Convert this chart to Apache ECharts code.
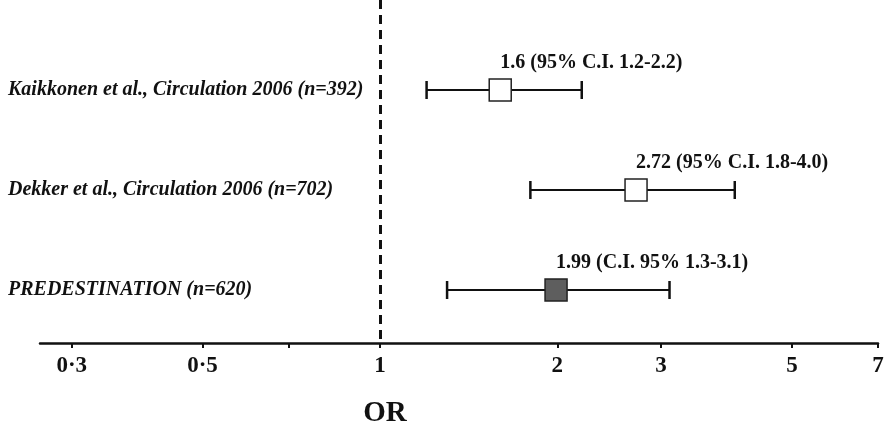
<!DOCTYPE html>
<html>
<head>
<meta charset="utf-8">
<script src="https://cdn.jsdelivr.net/npm/echarts@6/dist/echarts.min.js"></script>
<style>
  html, body { margin: 0; padding: 0; background: #fff; }
  #chart { width: 888px; height: 424px; }
</style>
</head>
<body>
<div id="chart"></div>
<script>
const studies = [
  "Kaikkonen et al., Circulation 2006 (n=392)",
  "Dekker et al., Circulation 2006 (n=702)",
  "PREDESTINATION (n=620)"
];
const orValues = [1.6, 2.72, 1.99];
const ciLow = [1.2, 1.8, 1.3];
const ciHigh = [2.2, 4.0, 3.1];
const notes = [
  "1.6 (95% C.I. 1.2-2.2)",
  "2.72 (95% C.I. 1.8-4.0)",
  "1.99 (C.I. 95% 1.3-3.1)"
];
const xTicks = [0.3, 0.5, 0.7, 1, 2, 3, 5, 7];
const xLabels = [0.3, 0.5, 1, 2, 3, 5, 7];

const ink = "#111";
const boxFill = ["#ffffff", "#ffffff", "#5e5e5e"];
const serif = "Liberation Serif, Times New Roman, serif";

const chart = echarts.init(document.getElementById("chart"));

function renderItem(params, api) {
  const i = params.dataIndex;
  const row = api.value(0);
  const lo = api.coord([api.value(1), row]);
  const mid = api.coord([api.value(2), row]);
  const hi = api.coord([api.value(3), row]);
  const cap = 9;
  const half = 11;
  return {
    type: "group",
    children: [
      { type: "line", shape: { x1: lo[0], y1: lo[1], x2: hi[0], y2: hi[1] }, style: { stroke: ink, lineWidth: 2 } },
      { type: "line", shape: { x1: lo[0], y1: lo[1] - cap, x2: lo[0], y2: lo[1] + cap }, style: { stroke: ink, lineWidth: 2.5 } },
      { type: "line", shape: { x1: hi[0], y1: hi[1] - cap, x2: hi[0], y2: hi[1] + cap }, style: { stroke: ink, lineWidth: 2.5 } },
      {
        type: "rect",
        shape: { x: mid[0] - half, y: mid[1] - half, width: half * 2, height: half * 2 },
        style: { fill: boxFill[i], stroke: "#222", lineWidth: 1.5 }
      },
      {
        type: "text",
        x: mid[0],
        y: mid[1] - 27,
        style: {
          text: notes[i],
          fill: ink,
          font: "bold 20px " + serif,
          textAlign: "left",
          textVerticalAlign: "middle"
        }
      }
    ]
  };
}

chart.setOption({
  animation: false,
  title: {
    text: "OR",
    left: 380,
    top: 394,
    textAlign: "center",
    textStyle: { fontFamily: serif, fontWeight: "bold", fontSize: 29, color: ink }
  },
  grid: { left: 40, right: 10, top: 0, bottom: 81 },
  xAxis: {
    type: "log",
    logBase: 10,
    min: 0.265,
    max: 7,
    axisLine: { onZero: false, lineStyle: { color: ink, width: 2.5 } },
    axisTick: { customValues: xTicks, length: 5, lineStyle: { color: ink, width: 2 } },
    axisLabel: {
      customValues: xLabels,
      margin: 12,
      color: ink,
      fontFamily: serif,
      fontWeight: "bold",
      fontSize: 23,
      formatter: (v) => String(v).replace(".", "·")
    },
    splitLine: { show: false },
    minorTick: { show: false }
  },
  yAxis: {
    type: "value",
    inverse: true,
    min: -0.9,
    max: 2.53,
    axisLine: { show: false },
    axisTick: { show: false },
    splitLine: { show: false },
    axisLabel: {
      customValues: [0, 1, 2],
      align: "left",
      margin: 32,
      color: ink,
      fontFamily: serif,
      fontWeight: "bold",
      fontStyle: "italic",
      fontSize: 20,
      formatter: (v) => studies[v] || ""
    }
  },
  series: [
    {
      type: "custom",
      renderItem,
      data: studies.map((s, i) => [i, ciLow[i], orValues[i], ciHigh[i]]),
      markLine: {
        silent: true,
        symbol: "none",
        label: { show: false },
        lineStyle: { color: ink, width: 3, type: [9, 6] },
        data: [{ xAxis: 1 }]
      }
    }
  ]
});
</script>
</body>
</html>
